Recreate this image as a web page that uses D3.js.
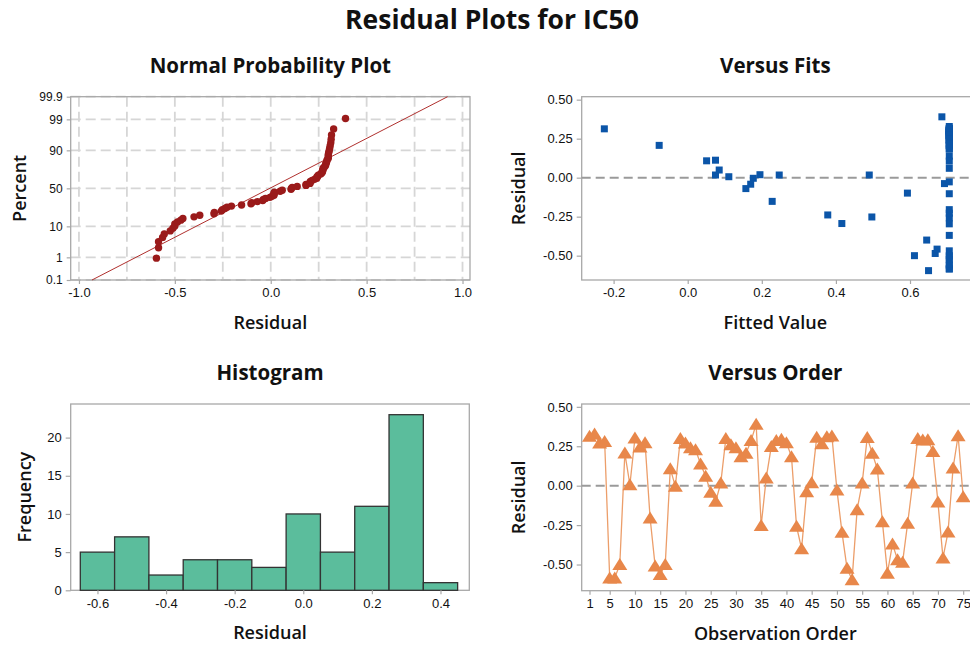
<!DOCTYPE html>
<html><head><meta charset="utf-8">
<script src="https://cdn.jsdelivr.net/npm/d3@7"></script>
<style>
body{margin:0;background:#fff;}
svg{display:block;font-family:"Open Sans","Noto Sans",sans-serif;}
</style></head><body>
<svg id="chart" width="970" height="645"></svg>
<script>
// ---------- DATA ----------
const residuals = [
  0.313, 0.328, 0.270, 0.280, -0.585, -0.585, -0.500, 0.207, 0.006, 0.302,
  0.245, 0.273, -0.205, -0.510, -0.564, -0.500, 0.108, -0.004, 0.300, 0.270,
  0.240, 0.228, 0.138, 0.060, -0.042, -0.099, 0.017, 0.300, 0.260, 0.240,
  0.184, 0.205, 0.286, 0.390, -0.252, 0.049, 0.248, 0.286, 0.294, 0.273,
  0.184, -0.258, -0.400, -0.038, 0.019, 0.307, 0.266, 0.310, 0.315, -0.027,
  -0.296, -0.524, -0.596, -0.152, 0.017, 0.305, 0.205, 0.106, -0.228, -0.555,
  -0.370, -0.469, -0.486, -0.239, 0.017, 0.300, 0.290, 0.292, 0.216, -0.103,
  -0.458, -0.294, 0.112, 0.317, -0.070
];
const fittedValues = [
  -0.225, 0.706, 0.706, 0.706, 0.706, 0.706, 0.706, -0.077, 0.111, 0.706,
  0.706, 0.706, 0.706, 0.706, 0.706, 0.612, 0.051, 0.177, 0.706, 0.706,
  0.706, 0.706, 0.706, 0.706, 0.170, 0.593, 0.075, 0.706, 0.706, 0.706,
  0.706, 0.706, 0.706, 0.686, 0.497, 0.085, 0.706, 0.706, 0.706, 0.706,
  0.706, 0.706, 0.645, 0.693, 0.195, 0.706, 0.706, 0.706, 0.706, 0.706,
  0.706, 0.706, 0.650, 0.228, 0.247, 0.706, 0.706, 0.706, 0.706, 0.706,
  0.706, 0.706, 0.668, 0.378, 0.490, 0.706, 0.706, 0.706, 0.706, 0.706,
  0.673, 0.416, 0.075, 0.706, 0.157
];
const histBinCenters = [-0.6, -0.5, -0.4, -0.3, -0.2, -0.1, 0.0, 0.1, 0.2, 0.3, 0.4];
const histCounts     = [5, 7, 2, 4, 4, 3, 10, 5, 11, 23, 1];
const histBinWidth = 0.1;
const probTicks = [0.1, 1, 10, 50, 90, 99, 99.9];
const nppXTicks = [-1.0, -0.5, 0.0, 0.5, 1.0];
const fitsXTicks = [-0.2, 0.0, 0.2, 0.4, 0.6];
const residTicks = [-0.50, -0.25, 0.00, 0.25, 0.50];
const histXTicks = [-0.6, -0.4, -0.2, 0.0, 0.2, 0.4];
const histYTicks = [0, 5, 10, 15, 20];
const orderTicks = [1, 5, 10, 15, 20, 25, 30, 35, 40, 45, 50, 55, 60, 65, 70, 75];
const normalFit = {mean: -0.005, sd: 0.300};

// ---------- helpers ----------
function normInv(p){
  const a=[-3.969683028665376e+01,2.209460984245205e+02,-2.759285104469687e+02,1.383577518672690e+02,-3.066479806614716e+01,2.506628277459239e+00];
  const b=[-5.447609879822406e+01,1.615858368580409e+02,-1.556989798598866e+02,6.680131188771972e+01,-1.328068155288572e+01];
  const c=[-7.784894002430293e-03,-3.223964580411365e-01,-2.400758277161838e+00,-2.549732539343734e+00,4.374664141464968e+00,2.938163982698783e+00];
  const d=[7.784695709041462e-03,3.224671290700398e-01,2.445134137142996e+00,3.754408661907416e+00];
  const pl=0.02425, ph=1-pl; let q,r;
  if(p<pl){q=Math.sqrt(-2*Math.log(p));return (((((c[0]*q+c[1])*q+c[2])*q+c[3])*q+c[4])*q+c[5])/((((d[0]*q+d[1])*q+d[2])*q+d[3])*q+1);}
  if(p<=ph){q=p-0.5;r=q*q;return (((((a[0]*r+a[1])*r+a[2])*r+a[3])*r+a[4])*r+a[5])*q/(((((b[0]*r+b[1])*r+b[2])*r+b[3])*r+b[4])*r+1);}
  q=Math.sqrt(-2*Math.log(1-p));return -(((((c[0]*q+c[1])*q+c[2])*q+c[3])*q+c[4])*q+c[5])/((((d[0]*q+d[1])*q+d[2])*q+d[3])*q+1);
}
const hy = s => s.replace("\u2212","-");
const fmt1 = v => hy(d3.format(".1f")(v));
const fmt2 = v => hy(d3.format(".2f")(v));

const svg = d3.select("#chart");
const AX = "#a8a8a8";
const TXT = "#111";

const P = {
  npp:   {l:70.7, r:470,  t:96.7, b:280},
  fits:  {l:581.7, r:971, t:96.7, b:280},
  hist:  {l:70.7, r:469.3, t:404, b:590.3},
  order: {l:581.7, r:971, t:404, b:590.7}
};

function styleAxis(g, fs){
  g.select(".domain").remove();
  g.selectAll(".tick line").attr("stroke", AX).attr("stroke-width", 1.2);
  g.selectAll(".tick text").attr("fill", TXT).style("font-size", (fs||13)+"px");
}
function frame(p){
  svg.append("rect").attr("x",p.l).attr("y",p.t).attr("width",p.r-p.l).attr("height",p.b-p.t)
    .attr("fill","none").attr("stroke",AX).attr("stroke-width",1.3);
}
function titles(p, sub, xt, yt, yX){
  const cy=(p.t+p.b)/2;
  const cx=(p.l+Math.min(p.r,969))/2;
  svg.append("text").attr("x",cx).attr("y",p.t-24).attr("text-anchor","middle")
    .attr("fill","#111").style("font-size","20.5px").style("font-weight","bold").text(sub);
  svg.append("text").attr("x",cx).attr("y",p.b+49).attr("text-anchor","middle")
    .attr("fill","#111").style("font-size","18px").style("font-weight","600").text(xt);
  svg.append("text").attr("transform",`translate(${yX},${cy}) rotate(-90)`).attr("text-anchor","middle")
    .attr("fill","#111").style("font-size","18px").style("font-weight","600").text(yt);
}

// main title
svg.append("text").attr("x",492).attr("y",29.3).attr("text-anchor","middle")
  .attr("fill","#111").style("font-size","26.5px").style("font-weight","bold").text("Residual Plots for IC50");

// ---------- Normal probability plot ----------
(function(){
  const p=P.npp;
  const x=d3.scaleLinear().domain([-1.043,1.039]).range([p.l,p.r]);
  const zMin=normInv(0.001), zMax=normInv(0.999);
  const y=d3.scaleLinear().domain([zMin,zMax]).range([p.b,p.t]);
  const gridX=d3.range(-1,1.0001,0.25);
  svg.append("g").selectAll("line").data(gridX).join("line")
    .attr("x1",d=>x(d)).attr("x2",d=>x(d)).attr("y1",p.t).attr("y2",p.b)
    .attr("stroke","#d6d6d6").attr("stroke-width",1.8).attr("stroke-dasharray","10,5");
  svg.append("g").selectAll("line").data(probTicks).join("line")
    .attr("x1",p.l).attr("x2",p.r).attr("y1",d=>y(normInv(d/100))).attr("y2",d=>y(normInv(d/100)))
    .attr("stroke","#d6d6d6").attr("stroke-width",1.8).attr("stroke-dasharray","10,5");
  frame(p);
  const gx=svg.append("g").attr("transform",`translate(0,${p.b})`)
    .call(d3.axisBottom(x).tickValues(nppXTicks).tickFormat(fmt1).tickSize(4).tickPadding(4));
  styleAxis(gx,13);
  const gy=svg.append("g").attr("transform",`translate(${p.l},0)`)
    .call(d3.axisLeft(y).tickValues(probTicks.map(v=>normInv(v/100))).tickFormat((d,i)=>String(probTicks[i])).tickSize(4).tickPadding(4));
  styleAxis(gy,12);
  const lineZ=[zMin,zMax];
  svg.append("path").datum(lineZ)
    .attr("d",d3.line().x(z=>x(normalFit.mean+normalFit.sd*z)).y(z=>y(z)))
    .attr("stroke","#b0302e").attr("stroke-width",1).attr("fill","none");
  const n=residuals.length;
  const sorted=residuals.slice().sort(d3.ascending);
  svg.append("g").selectAll("circle").data(sorted).join("circle")
    .attr("cx",d=>x(d)).attr("cy",(d,i)=>y(normInv((i+1-0.3)/(n+0.4)))).attr("r",3.7)
    .attr("fill","#9a1a1a");
  titles(p,"Normal Probability Plot","Residual","Percent",26);
})();

// ---------- Versus Fits ----------
(function(){
  const p=P.fits;
  const x=d3.scaleLinear().domain([-0.2861,0.7646]).range([p.l,p.r]);
  const y=d3.scaleLinear().domain([-0.656,0.519]).range([p.b,p.t]);
  frame(p);
  const gx=svg.append("g").attr("transform",`translate(0,${p.b})`)
    .call(d3.axisBottom(x).tickValues(fitsXTicks).tickFormat(fmt1).tickSize(4).tickPadding(4));
  styleAxis(gx,13);
  const gy=svg.append("g").attr("transform",`translate(${p.l},0)`)
    .call(d3.axisLeft(y).tickValues(residTicks).tickFormat(fmt2).tickSize(5).tickPadding(4));
  styleAxis(gy,13);
  svg.append("line").attr("x1",p.l).attr("x2",p.r).attr("y1",y(0)).attr("y2",y(0))
    .attr("stroke","#9a9a9a").attr("stroke-width",2).attr("stroke-dasharray","9,5");
  const s=7;
  svg.append("g").selectAll("rect").data(residuals.map((r,i)=>({f:fittedValues[i],r}))).join("rect")
    .attr("x",d=>x(d.f)-s/2).attr("y",d=>y(d.r)-s/2).attr("width",s).attr("height",s)
    .attr("fill","#0b55a8");
  titles(p,"Versus Fits","Fitted Value","Residual",524.6);
})();

// ---------- Histogram ----------
(function(){
  const p=P.hist;
  const x=d3.scaleLinear().domain([-0.678,0.484]).range([p.l,p.r]);
  const y=d3.scaleLinear().domain([0,24.4]).range([p.b,p.t]);
  frame(p);
  svg.append("g").selectAll("rect").data(histCounts.map((c,i)=>({c,m:histBinCenters[i]}))).join("rect")
    .attr("x",d=>x(d.m-histBinWidth/2)).attr("width",d=>x(d.m+histBinWidth/2)-x(d.m-histBinWidth/2))
    .attr("y",d=>y(d.c)).attr("height",d=>y(0)-y(d.c))
    .attr("fill","#5bbd9c").attr("stroke","#333").attr("stroke-width",1.3);
  const gx=svg.append("g").attr("transform",`translate(0,${p.b})`)
    .call(d3.axisBottom(x).tickValues(histXTicks).tickFormat(fmt1).tickSize(4).tickPadding(4));
  styleAxis(gx,13);
  const gy=svg.append("g").attr("transform",`translate(${p.l},0)`)
    .call(d3.axisLeft(y).tickValues(histYTicks).tickFormat(d3.format("d")).tickSize(5).tickPadding(4));
  styleAxis(gy,13);
  titles(p,"Histogram","Residual","Frequency",31);
})();

// ---------- Versus Order ----------
(function(){
  const p=P.order;
  const x=d3.scaleLinear().domain([-0.545,76.55]).range([p.l,p.r]);
  const y=d3.scaleLinear().domain([-0.666,0.518]).range([p.b,p.t]);
  frame(p);
  const gx=svg.append("g").attr("transform",`translate(0,${p.b})`)
    .call(d3.axisBottom(x).tickValues(orderTicks).tickFormat(d3.format("d")).tickSize(4).tickPadding(4));
  styleAxis(gx,13);
  const gy=svg.append("g").attr("transform",`translate(${p.l},0)`)
    .call(d3.axisLeft(y).tickValues(residTicks).tickFormat(fmt2).tickSize(5).tickPadding(4));
  styleAxis(gy,13);
  svg.append("line").attr("x1",p.l).attr("x2",p.r).attr("y1",y(0)).attr("y2",y(0))
    .attr("stroke","#9a9a9a").attr("stroke-width",2).attr("stroke-dasharray","9,5");
  const pts=residuals.map((r,i)=>({o:i+1,r}));
  svg.append("path").datum(pts)
    .attr("d",d3.line().x(d=>x(d.o)).y(d=>y(d.r)))
    .attr("fill","none").attr("stroke","#ec9e6a").attr("stroke-width",1.3);
  const tri="M0,-6.5L7.5,5.5L-7.5,5.5Z";
  svg.append("g").selectAll("path").data(pts).join("path")
    .attr("transform",d=>`translate(${x(d.o)},${y(d.r)})`).attr("d",tri)
    .attr("fill","#e8874a");
  titles(p,"Versus Order","Observation Order","Residual",524.6);
})();
</script>
</body></html>
